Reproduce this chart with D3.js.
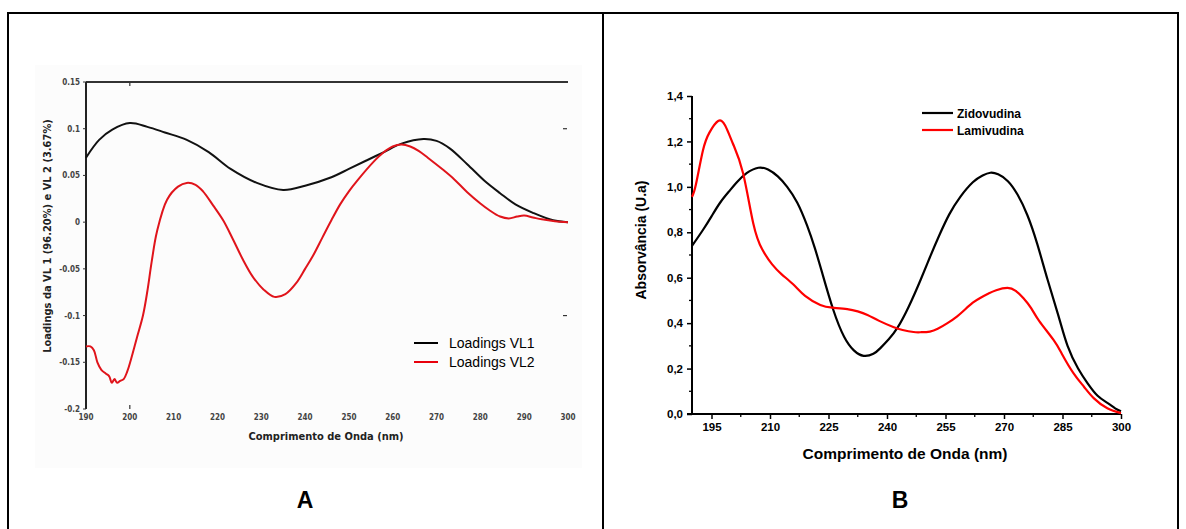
<!DOCTYPE html>
<html><head><meta charset="utf-8">
<script src="https://cdn.jsdelivr.net/npm/d3@7"></script>
<style>html,body{margin:0;padding:0;background:#fff;} svg{display:block;}</style>
</head><body>
<svg id="c" width="1186" height="529"></svg>
<script>
// ---------- Data: Panel A (loadings) ----------
const aWave1 = [190,193,196,200,204,208,213,218,223,229,235,240,246,250,254,258,262,267,270,273,277,281,284.5,288,292,296.6,300];
const aVL1   = [0.069,0.088,0.099,0.106,0.102,0.096,0.088,0.075,0.057,0.042,0.0345,0.039,0.048,0.057,0.066,0.075,0.084,0.089,0.087,0.079,0.062,0.044,0.031,0.019,0.01,0.002,0];
const aWave2 = [190,191,191.8,192.6,193.5,194.5,195.3,195.9,196.5,197.1,197.8,198.6,199.4,200.2,201.6,203,204,205,206.2,208.5,211,213,215,216.7,219,221.3,223.5,225.8,228,230.5,233,235.5,238,240,241.8,244,246,248,250,252,255.5,258,260,262,264,266,268,271.5,274,277,280,282,284.5,286.5,288.4,290,292,294,297,300];
const aVL2   = [-0.133,-0.133,-0.137,-0.15,-0.158,-0.162,-0.165,-0.172,-0.168,-0.172,-0.17,-0.168,-0.16,-0.148,-0.124,-0.1,-0.074,-0.042,-0.01,0.024,0.038,0.042,0.04,0.033,0.018,0.002,-0.018,-0.04,-0.058,-0.072,-0.08,-0.077,-0.065,-0.05,-0.036,-0.016,0.002,0.019,0.033,0.045,0.064,0.075,0.081,0.083,0.081,0.076,0.069,0.056,0.046,0.032,0.02,0.013,0.006,0.004,0.006,0.007,0.005,0.003,0.001,0];
const aYTicks = [0.15,0.1,0.05,0,-0.05,-0.1,-0.15,-0.2];
const aYTickLabels = ["0.15","0.1","0.05","0","-0.05","-0.1","-0.15","-0.2"];
const aXTicks = [190,200,210,220,230,240,250,260,270,280,290,300];
const aLegend = ["Loadings VL1","Loadings VL2"];

// ---------- Data: Panel B (absorbance) ----------
const bWave1 = [190,192.8,195,197.2,199.5,201.5,204,207,209.5,212,214.4,217,219.5,221.5,223.4,226.2,229,231.5,234,236.5,238.3,240.5,242.7,245.5,248.6,251,253.5,256,258.8,262,264.5,266.5,268.5,271,273.5,276,278.5,281.2,284,286.3,289,291.4,294,296.6,298.5,300];
const bZido  = [0.74,0.81,0.87,0.93,0.98,1.02,1.06,1.084,1.076,1.046,1.0,0.93,0.83,0.73,0.62,0.46,0.34,0.28,0.256,0.265,0.29,0.33,0.38,0.47,0.59,0.69,0.79,0.88,0.956,1.02,1.05,1.062,1.055,1.025,0.965,0.875,0.75,0.59,0.43,0.3,0.2,0.136,0.08,0.048,0.025,0.012];
const bWave2 = [190,191,192.8,194.5,196.7,198.5,200.5,203.1,205.7,208,210.5,213,216,219,222.9,226,229.8,232.5,235,238,241.6,244,246.8,248.6,251,253,255.5,258,260,262,264,266,268,270.9,273,275,277,279,282.7,285,287.8,290.5,293,296.5,300];
const bLami  = [0.956,1.01,1.16,1.24,1.29,1.27,1.19,1.06,0.84,0.725,0.66,0.615,0.57,0.52,0.48,0.468,0.462,0.452,0.436,0.41,0.383,0.37,0.361,0.36,0.363,0.375,0.4,0.43,0.46,0.49,0.512,0.53,0.545,0.555,0.542,0.51,0.465,0.41,0.326,0.26,0.18,0.12,0.07,0.025,0.004];
const bYTicks = [0,0.2,0.4,0.6,0.8,1.0,1.2,1.4];
const bXTicks = [195,210,225,240,255,270,285,300];
const bLegend = ["Zidovudina","Lamivudina"];

const svg = d3.select("#c");

svg.append("rect").attr("x",8).attr("y",13).attr("width",1170).attr("height",530)
  .attr("fill","none").attr("stroke","#000").attr("stroke-width",2);
svg.append("line").attr("x1",603).attr("x2",603).attr("y1",13).attr("y2",529)
  .attr("stroke","#000").attr("stroke-width",2);

// ================= Panel A =================
const A = svg.append("g");
A.append("rect").attr("x",35).attr("y",65).attr("width",547).attr("height",403).attr("fill","#fcfcfc");
const ax = d3.scaleLinear().domain([190,300]).range([86,568]);
const ay = d3.scaleLinear().domain([-0.2,0.15]).range([409,82]);
const fA = "'Liberation Sans Narrow','DejaVu Sans Condensed',Arial,sans-serif";

A.append("line").attr("x1",ax(190)).attr("x2",ax(300)).attr("y1",ay(0.15)).attr("y2",ay(0.15)).attr("stroke","#333").attr("stroke-width",2);
A.append("line").attr("x1",ax(190)).attr("x2",ax(190)).attr("y1",ay(0.15)).attr("y2",ay(-0.2)).attr("stroke","#222").attr("stroke-width",2);
A.append("line").attr("x1",ax(200)).attr("x2",ax(200)).attr("y1",ay(0.15)).attr("y2",ay(0.15)+4).attr("stroke","#333").attr("stroke-width",1.2);
A.append("line").attr("x1",ax(200)).attr("x2",ax(200)).attr("y1",ay(-0.2)-4).attr("y2",ay(-0.2)).attr("stroke","#333").attr("stroke-width",1.2);
[0.1,-0.1].forEach(v=>A.append("line").attr("x1",ax(300)-5).attr("x2",ax(300)-1).attr("y1",ay(v)).attr("y2",ay(v)).attr("stroke","#333").attr("stroke-width",1.2));
aYTicks.forEach((v,i)=>{
  A.append("line").attr("x1",ax(190)-3).attr("x2",ax(190)).attr("y1",ay(v)).attr("y2",ay(v)).attr("stroke","#333").attr("stroke-width",1);
  A.append("text").attr("x",ax(190)-6).attr("y",ay(v)+3).attr("text-anchor","end")
    .attr("font-family",fA).attr("font-weight","bold").attr("font-size",8).attr("fill","#444").text(aYTickLabels[i]);
});
aXTicks.forEach(v=>{
  A.append("text").attr("x",ax(v)).attr("y",ay(-0.2)+11).attr("text-anchor","middle")
    .attr("font-family",fA).attr("font-weight","bold").attr("font-size",8).attr("fill","#444").text(v);
});
A.append("text").attr("x",326).attr("y",440).attr("text-anchor","middle")
  .attr("font-family",fA).attr("font-weight","bold").attr("font-size",11).attr("fill","#222").text("Comprimento de Onda (nm)");
A.append("text").attr("transform","translate(51,236) rotate(-90)").attr("text-anchor","middle")
  .attr("font-family",fA).attr("font-weight","bold").attr("font-size",11).attr("fill","#222").text("Loadings da VL 1 (96.20%) e VL 2 (3.67%)");

const lineA = d3.line().x(d=>ax(d[0])).y(d=>ay(d[1])).curve(d3.curveCatmullRom.alpha(0.5));
A.append("path").datum(d3.zip(aWave1,aVL1)).attr("d",lineA).attr("fill","none").attr("stroke","#111").attr("stroke-width",2);
A.append("path").datum(d3.zip(aWave2,aVL2)).attr("d",lineA).attr("fill","none").attr("stroke","#e0141b").attr("stroke-width",2);

const aCol = ["#000","#e8000c"];
aLegend.forEach((t,i)=>{
  const y = 343 + i*19;
  A.append("line").attr("x1",414).attr("x2",438).attr("y1",y).attr("y2",y).attr("stroke",aCol[i]).attr("stroke-width",2);
  A.append("text").attr("x",449).attr("y",y+5).attr("font-family","Arial, 'Liberation Sans', sans-serif").attr("font-size",14).attr("fill","#000").text(t);
});

// ================= Panel B =================
const B = svg.append("g");
const bx = d3.scaleLinear().domain([190,300]).range([692,1121]);
const by = d3.scaleLinear().domain([0,1.4]).range([414,96]);
const fB = "Arial, 'Liberation Sans', sans-serif";

const xAxisB = d3.axisBottom(bx).tickValues(bXTicks).tickSize(5).tickPadding(4).tickFormat(d3.format("d"));
const gxB = B.append("g").attr("transform",`translate(0,${by(0)})`).call(xAxisB);
gxB.select(".domain").attr("d",`M687,0H${bx(300)}`).attr("stroke-width",2);
bXTicks.slice(0,-1).map(v=>v+7.5).forEach(v=>gxB.append("line").attr("x1",bx(v)).attr("x2",bx(v)).attr("y1",0).attr("y2",3).attr("stroke","#000").attr("stroke-width",1.3));

const yAxisB = d3.axisLeft(by).tickValues(bYTicks).tickSize(5).tickPadding(4).tickFormat(d=>d3.format(".1f")(d).replace(".",","));
const gyB = B.append("g").attr("transform",`translate(${bx(190)},0)`).call(yAxisB);
gyB.select(".domain").attr("d",`M0,${by(1.4)}V${by(0)}`).attr("stroke-width",2);
[0.1,0.3,0.5,0.7,0.9,1.1,1.3].forEach(v=>gyB.append("line").attr("x1",-3).attr("x2",0).attr("y1",by(v)).attr("y2",by(v)).attr("stroke","#000").attr("stroke-width",1.3));
[gxB,gyB].forEach(g=>{
  g.selectAll(".tick line").attr("stroke-width",1.5);
  g.selectAll("text").attr("font-family",fB).attr("font-weight","bold").attr("font-size",11.5).attr("fill","#000");
});

B.append("text").attr("x",905).attr("y",459).attr("text-anchor","middle")
  .attr("font-family",fB).attr("font-weight","bold").attr("font-size",15.5).text("Comprimento de Onda (nm)");
B.append("text").attr("transform","translate(646,240) rotate(-90)").attr("text-anchor","middle")
  .attr("font-family",fB).attr("font-weight","bold").attr("font-size",14).text("Absorvância (U.a)");

const lineB = d3.line().x(d=>bx(d[0])).y(d=>by(d[1])).curve(d3.curveNatural);
B.append("path").datum(d3.zip(bWave1,bZido)).attr("d",lineB).attr("fill","none").attr("stroke","#000").attr("stroke-width",2.2);
B.append("path").datum(d3.zip(bWave2,bLami)).attr("d",lineB).attr("fill","none").attr("stroke","#f00").attr("stroke-width",2.2);

const bCol = ["#000","#f00"];
bLegend.forEach((t,i)=>{
  const y = 113 + i*17;
  B.append("line").attr("x1",922).attr("x2",953).attr("y1",y).attr("y2",y).attr("stroke",bCol[i]).attr("stroke-width",2.2);
  B.append("text").attr("x",957).attr("y",y+4.5).attr("font-family",fB).attr("font-weight","bold").attr("font-size",12).text(t);
});

svg.append("text").attr("x",305).attr("y",508).attr("text-anchor","middle").attr("font-family",fB).attr("font-weight","bold").attr("font-size",23).text("A");
svg.append("text").attr("x",900).attr("y",508).attr("text-anchor","middle").attr("font-family",fB).attr("font-weight","bold").attr("font-size",23).text("B");
</script>
</body></html>
